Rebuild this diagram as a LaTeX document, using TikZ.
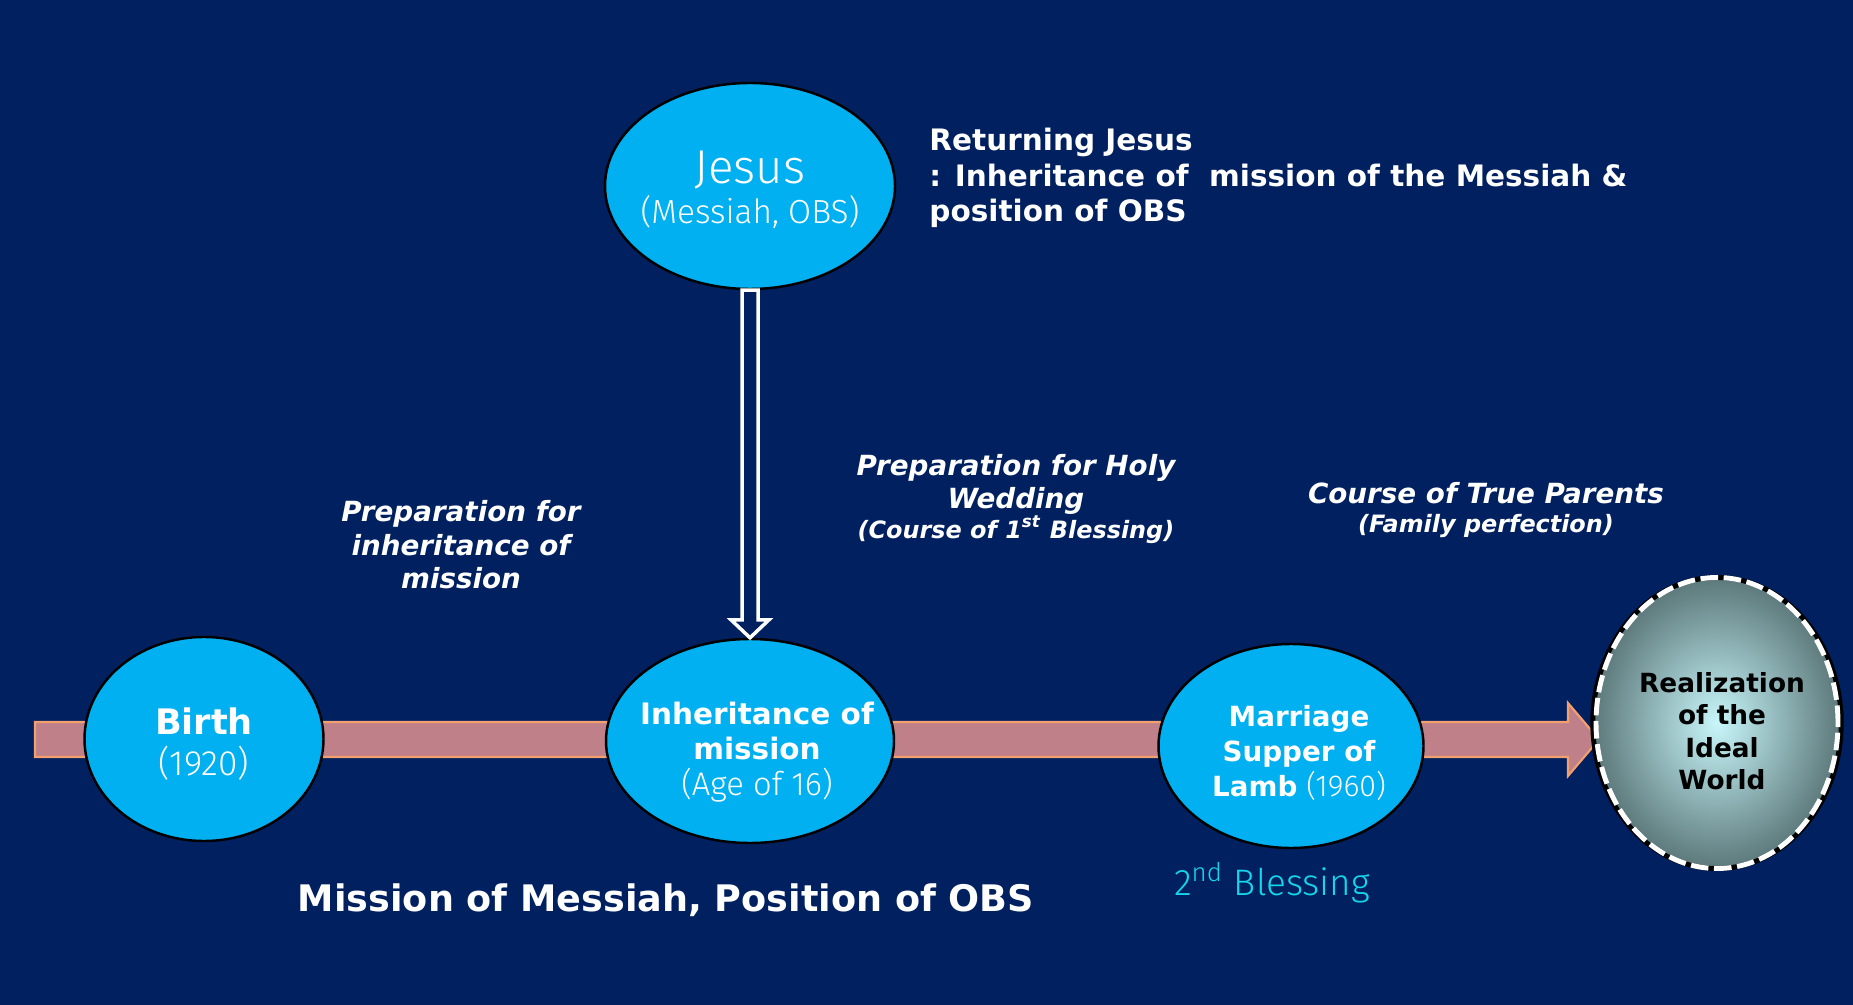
\documentclass[tikz,border=0pt]{standalone}
\usepackage{fontspec}
\setmainfont{DejaVu Sans}
\newfontfamily\thinfont{Fira Sans Light}
\usetikzlibrary{shapes.geometric}

\definecolor{navy}{RGB}{0,32,96}
\definecolor{skyblue}{RGB}{0,176,240}
\definecolor{barpink}{RGB}{192,128,138}
\definecolor{barline}{RGB}{244,160,110}
\definecolor{blesscyan}{RGB}{20,215,235}
\definecolor{glowin}{RGB}{200,246,250}
\definecolor{glowout}{RGB}{92,120,122}

\newcommand\smallnote{\bfseries\itshape\fontsize{6.8}{8.5}\selectfont}

\begin{document}
\begin{tikzpicture}[
    stage/.style={ellipse, draw=black, line width=0.7pt, fill=skyblue,
      text=white, align=center, inner xsep=-0.3cm, inner ysep=0pt},
    caption/.style={text=white, align=center,
      font=\bfseries\itshape\fontsize{7.9}{9.5}\selectfont}
  ]

    % navy slide and fixed frame
    \fill[navy] (0,0) rectangle (18.53,-10.05);
    \useasboundingbox (0,0) rectangle (18.53,-10.05);

    % wide pink arrow along the time line
    \filldraw[fill=barpink, draw=barline, line width=0.6pt]
      (0.35,-7.22) -- (15.68,-7.22) -- (15.68,-7.03) -- (15.99,-7.395)
      -- (15.68,-7.76) -- (15.68,-7.57) -- (0.35,-7.57) -- cycle;

    % Jesus on top
    \node[stage, minimum width=2.90cm, minimum height=2.06cm,
      font=\thinfont\fontsize{9.5}{11.5}\selectfont] (jesus) at (7.50,-1.86)
      {\rule{0pt}{11.5pt}{\fontsize{13.5}{12}\selectfont Jesus}\\(Messiah, OBS)};

    % stages on the time line
    \node[stage, minimum width=2.39cm, minimum height=2.04cm,
      font=\fontsize{10}{11.7}\selectfont] (birth) at (2.04,-7.39)
      {\rule{0pt}{10.7pt}{\bfseries Birth}\\{\thinfont (1920)}};
    \node[stage, minimum width=2.88cm, minimum height=2.04cm,
      font=\fontsize{8.4}{10}\selectfont] (inherit) at (7.50,-7.41)
      {\rule{0pt}{12.7pt}\hspace*{0.14cm}{\bfseries Inheritance of}\\
       \hspace*{0.14cm}{\bfseries mission}\\
       \hspace*{0.14cm}{\thinfont\fontsize{9.3}{10}\selectfont (Age of 16)}};
    \node[stage, minimum width=2.65cm, minimum height=2.04cm,
      font=\fontsize{7.9}{10}\selectfont] (supper) at (12.91,-7.46)
      {\rule{0pt}{10pt}\hspace*{0.16cm}{\bfseries Marriage}\\\hspace*{0.16cm}{\bfseries Supper of}\\
       \hspace*{0.16cm}{\bfseries Lamb} {\thinfont\fontsize{8.6}{10}\selectfont (1960)}};

    % the goal
    \node[ellipse, minimum width=2.42cm, minimum height=2.91cm, inner sep=0pt,
      inner color=glowin, outer color=glowout, draw=black, line width=1.4pt,
      align=center, font=\bfseries\fontsize{7.5}{9.2}\selectfont] (ideal)
      at (17.17,-7.23)
      {\rule{0pt}{10.3pt}\hspace*{0.1cm}Realization\\\hspace*{0.1cm}of the\\
       \hspace*{0.1cm}Ideal\\\hspace*{0.1cm}World};
    \draw[white, line width=1.4pt, dash pattern=on 5pt off 1.6pt]
      (ideal.center) ellipse [x radius=1.21cm, y radius=1.455cm];

    % hollow arrow from Jesus down to the inheritance
    \draw[white, line width=1pt, fill=navy]
      ([xshift=-0.08cm]jesus.south) -- ([xshift=-0.08cm,yshift=0.18cm]inherit.north)
      -- ([xshift=-0.19cm,yshift=0.18cm]inherit.north) -- (inherit.north)
      -- ([xshift=0.19cm,yshift=0.18cm]inherit.north)
      -- ([xshift=0.08cm,yshift=0.18cm]inherit.north)
      -- ([xshift=0.08cm]jesus.south) -- cycle;

    % texts
    \node[anchor=west, text=white, align=left,
      font=\bfseries\fontsize{8.4}{10.2}\selectfont] (returning) at (9.17,-1.78)
      {Returning Jesus\\: Inheritance of\ \ mission of the Messiah \&\\position of OBS};
    \node[caption] (prepmission) at (4.61,-5.45)
      {Preparation for\\inheritance of\\mission};
    \node[caption] (prepwedding) at (10.16,-4.99)
      {Preparation for Holy\\Wedding\\[-1pt]
       {\smallnote (Course of 1\textsuperscript{st} Blessing)}};
    \node[caption] (trueparents) at (14.86,-5.10)
      {Course of True Parents\\[-1pt]{\smallnote (Family perfection)}};
    \node[text=white, font=\bfseries\fontsize{10.4}{12}\selectfont] (obs)
      at (6.66,-9.00) {Mission of Messiah, Position of OBS};
    \node[text=blesscyan, font=\thinfont\fontsize{10.5}{12}\selectfont] (second)
      at (12.72,-8.83) {2\textsuperscript{nd} Blessing};

\end{tikzpicture}
\end{document}
